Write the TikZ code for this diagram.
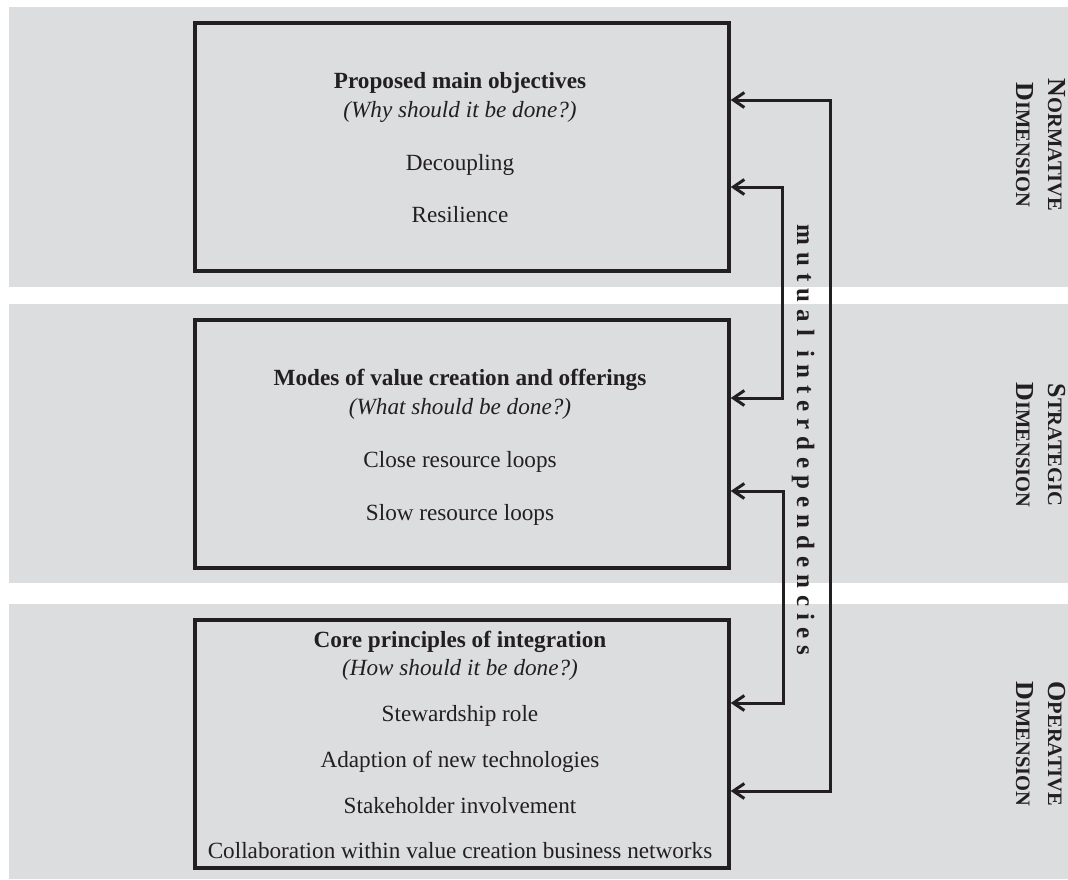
\documentclass[tikz,border=0pt]{standalone}
\usepackage{fontspec}
\setmainfont{Liberation Serif}
\usetikzlibrary{arrows.meta}
\definecolor{bandgray}{RGB}{220,221,223}
\definecolor{ink}{RGB}{35,31,32}
\newcommand{\fsc}[2]{{\fontsize{26}{30}\selectfont #1}{\fontsize{20.5}{24}\selectfont #2}}
\begin{document}
\begin{tikzpicture}[x=1pt,y=-1pt,
  band/.style={fill=bandgray,draw=none},
  box/.style={draw=ink,line width=3.4pt,inner sep=0pt,minimum width=534pt,minimum height=248pt},
  boxtext/.style={anchor=base,text=ink,inner sep=0pt,font=\fontsize{23.2}{28}\selectfont},
  dimtext/.style={anchor=base,rotate=-90,text=ink,inner sep=0pt,font=\bfseries},
  arr/.style={draw=ink,line width=3pt,{Straight Barb[length=11pt,width=15pt]}-{Straight Barb[length=11pt,width=15pt]}}]
\useasboundingbox (0,0) rectangle (1068,879);
% bands
\fill[band] (9,7) rectangle (1068,287);
\fill[band] (9,304) rectangle (1068,583);
\fill[band] (9,604) rectangle (1068,879);
% boxes
\node[box] (b1) at (462,147) {};
\node[box] (b2) at (462,444) {};
\node[box] (b3) at (462,744) {};
% box 1 texts
\node[boxtext,font=\fontsize{23.2}{28}\selectfont\bfseries] (t1a) at (460,88) {Proposed main objectives};
\node[boxtext,font=\fontsize{23.2}{28}\selectfont\itshape] (t1b) at (460,117) {(Why should it be done?)};
\node[boxtext] (t1c) at (460,170) {Decoupling};
\node[boxtext] (t1d) at (460,222) {Resilience};
% box 2 texts
\node[boxtext,font=\fontsize{23.2}{28}\selectfont\bfseries] (t2a) at (460,385) {Modes of value creation and offerings};
\node[boxtext,font=\fontsize{23.2}{28}\selectfont\itshape] (t2b) at (460,414) {(What should be done?)};
\node[boxtext] (t2c) at (460,467) {Close resource loops};
\node[boxtext] (t2d) at (460,520) {Slow resource loops};
% box 3 texts
\node[boxtext,font=\fontsize{23.2}{28}\selectfont\bfseries] (t3a) at (460,647) {Core principles of integration};
\node[boxtext,font=\fontsize{23.2}{28}\selectfont\itshape] (t3b) at (460,675) {(How should it be done?)};
\node[boxtext] (t3c) at (460,721) {Stewardship role};
\node[boxtext] (t3d) at (460,767) {Adaption of new technologies};
\node[boxtext] (t3e) at (460,813) {Stakeholder involvement};
\node[boxtext] (t3f) at (460,858) {Collaboration within value creation business networks};
% connector corners
\coordinate (o1) at (830,100);
\coordinate (o3) at (830,791);
\coordinate (i1) at (782,187);
\coordinate (i2) at (782,398);
\coordinate (j2) at (783,491);
\coordinate (j3) at (783,703);
\draw[arr] (b1.east |- o1) -- (o1) -- (o3) -- (b3.east |- o3);
\draw[arr] (b1.east |- i1) -- (i1) -- (i2) -- (b2.east |- i2);
\draw[arr] (b2.east |- j2) -- (j2) -- (j3) -- (b3.east |- j3);
% mutual interdependencies
\node[anchor=base,rotate=-90,text=ink,inner sep=0pt,font=\fontsize{25}{28}\selectfont\bfseries\addfontfeature{LetterSpace=28}] (mi) at (797,440) {mutual\hspace{14pt}interdependencies};
% dimension labels
\node[dimtext] (n1) at (1048,145) {\fsc{N}{ORMATIVE}};
\node[dimtext] (n2) at (1016,145) {\fsc{D}{IMENSION}};
\node[dimtext] (s1) at (1048,445) {\fsc{S}{TRATEGIC}};
\node[dimtext] (s2) at (1016,445) {\fsc{D}{IMENSION}};
\node[dimtext] (p1) at (1048,744) {\fsc{O}{PERATIVE}};
\node[dimtext] (p2) at (1016,744) {\fsc{D}{IMENSION}};
\end{tikzpicture}
\end{document}
